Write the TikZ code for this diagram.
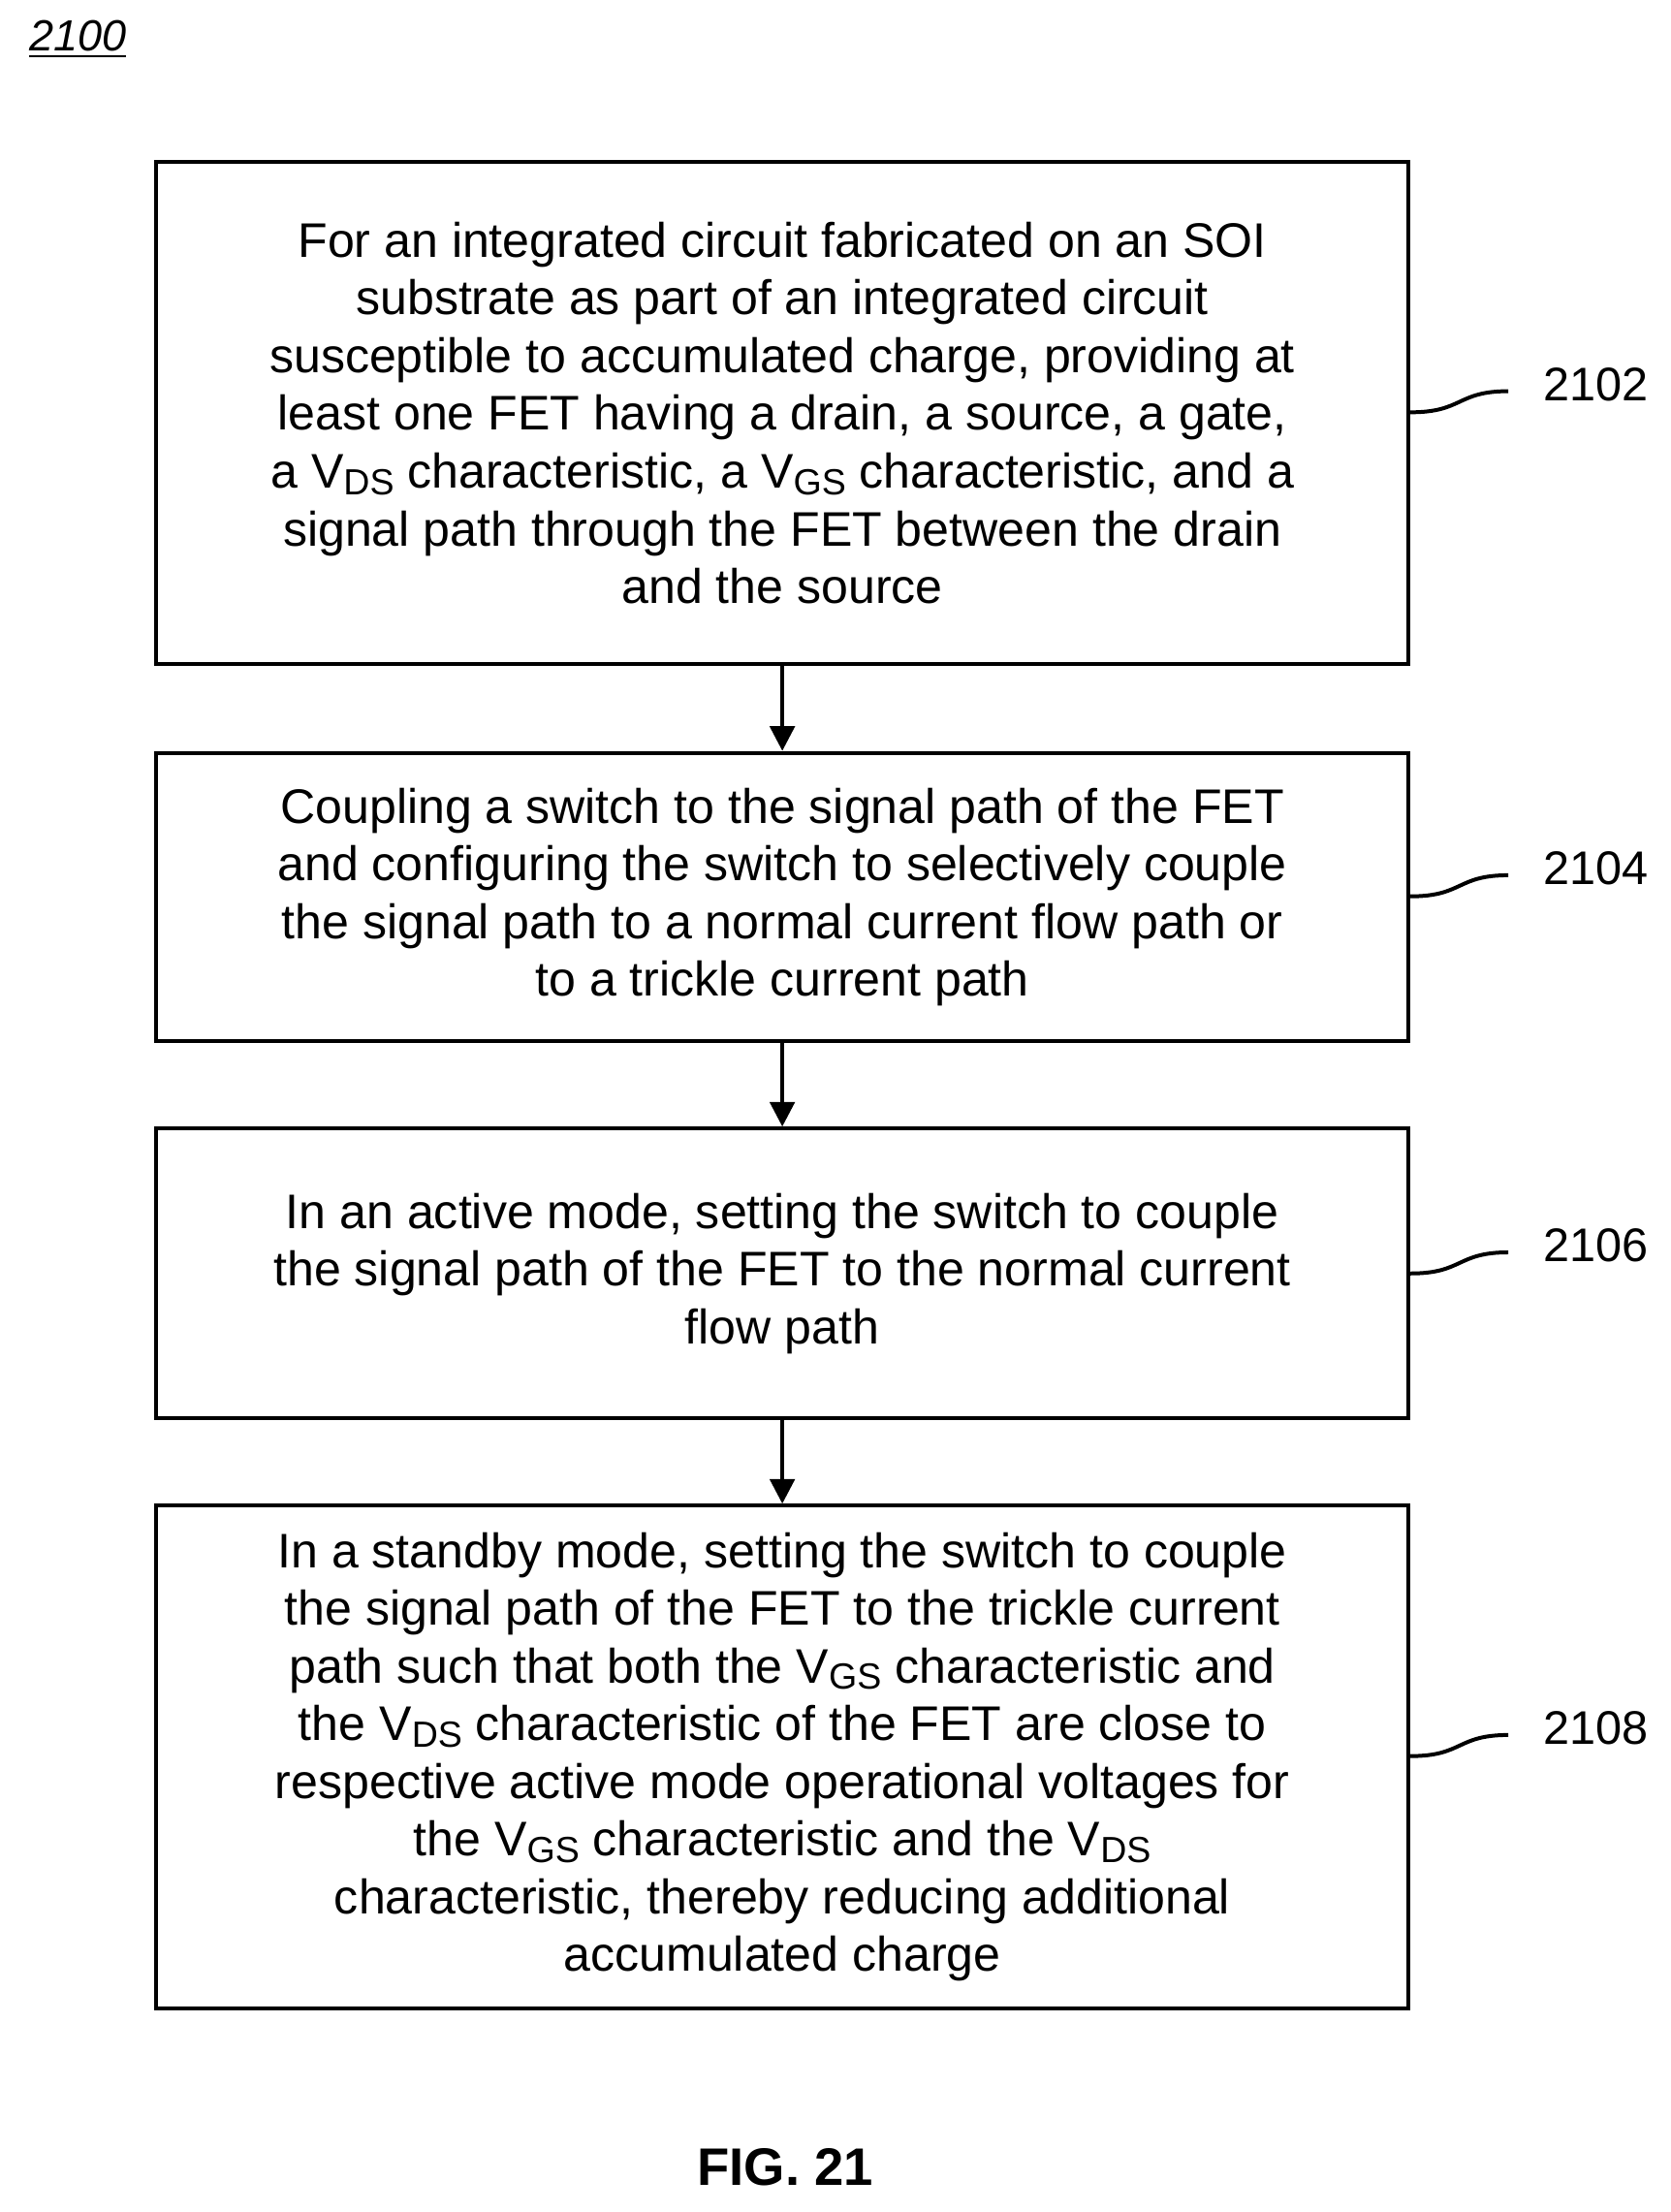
\documentclass[tikz,border=0pt]{standalone}
\usepackage{fontspec}
\setmainfont{Liberation Sans}
\usetikzlibrary{arrows.meta}
\newcommand{\sbs}[1]{\raisebox{-0.25ex}{\scalebox{0.75}{#1}}}
\begin{document}
\begin{tikzpicture}[x=0.4pt,y=-0.4pt,
  box/.style={draw,line width=1.1pt,inner sep=0pt,align=center,font=\fontsize{13.8}{16.4}\selectfont},
  lab/.style={font=\fontsize{13.4}{15}\selectfont,anchor=west},
  arr/.style={line width=1.1pt,-{Triangle[length=7pt,width=7pt]}},
  sq/.style={line width=1.1pt}]
\useasboundingbox (0,0) rectangle (1187,1572);
\node[anchor=west,font=\fontsize{12.4}{15}\selectfont\itshape] (t) at (12,28) {\underline{2100}};
\node[box,minimum width=890*0.4pt,minimum height=357*0.4pt] (b1) at (556,293.5) {For an integrated circuit fabricated on an SOI\\substrate as part of an integrated circuit\\susceptible to accumulated charge, providing at\\least one FET having a drain, a source, a gate,\\a V\sbs{DS} characteristic, a V\sbs{GS} characteristic, and a\\signal path through the FET between the drain\\and the source};
\node[box,minimum width=890*0.4pt,minimum height=205*0.4pt] (b2) at (556,637.5) {Coupling a switch to the signal path of the FET\\and configuring the switch to selectively couple\\the signal path to a normal current flow path or\\to a trickle current path};
\node[box,minimum width=890*0.4pt,minimum height=206*0.4pt] (b3) at (556,905) {In an active mode, setting the switch to couple\\the signal path of the FET to the normal current\\flow path};
\node[box,minimum width=890*0.4pt,minimum height=357*0.4pt] (b4) at (556,1248.5) {In a standby mode, setting the switch to couple\\the signal path of the FET to the trickle current\\path such that both the V\sbs{GS} characteristic and\\the V\sbs{DS} characteristic of the FET are close to\\respective active mode operational voltages for\\the V\sbs{GS} characteristic and the V\sbs{DS}\\characteristic, thereby reducing additional\\accumulated charge};
\draw[arr] (b1) -- (b2);
\draw[arr] (b2) -- (b3);
\draw[arr] (b3) -- (b4);
\foreach \b/\y/\t in {b1/293/2102,b2/637/2104,b3/905/2106,b4/1248/2108}{
  \node[lab] (l\t) at (1088,\y-20) {\t};
  \coordinate (e\t) at (1072,\y-15);
  \draw[sq] (\b.east |- 0,\y) .. controls (1040,\y) and (1035,\y-15) .. (e\t);
}
\node[font=\bfseries\fontsize{15}{17}\selectfont] (fig) at (558,1540) {FIG. 21};
\end{tikzpicture}
\end{document}
